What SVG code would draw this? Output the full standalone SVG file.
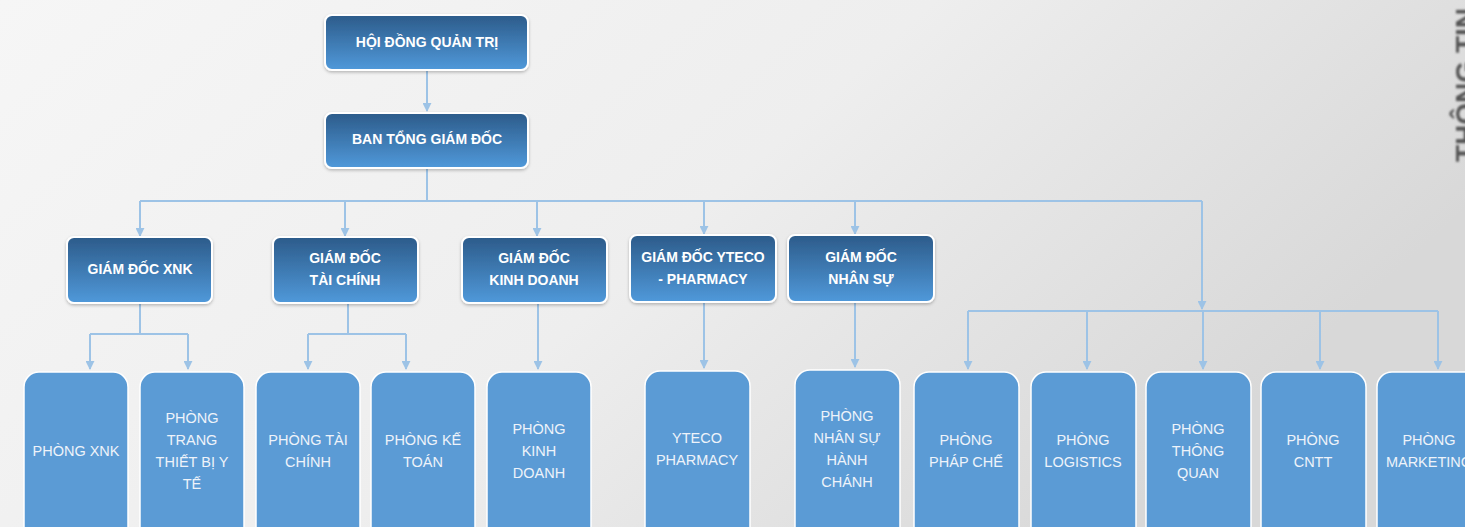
<svg xmlns="http://www.w3.org/2000/svg" width="1465" height="527" viewBox="0 0 1465 527">
<defs>
<linearGradient id="bg" x1="0" y1="0" x2="1" y2="0.4">
<stop offset="0" stop-color="#f6f6f6"/>
<stop offset="0.55" stop-color="#eeeeee"/>
<stop offset="1" stop-color="#d8d8d8"/>
</linearGradient>
<linearGradient id="dark" x1="0" y1="0" x2="0" y2="1">
<stop offset="0" stop-color="#2c5b8a"/>
<stop offset="1" stop-color="#5099da"/>
</linearGradient>
<filter id="sh" x="-10%" y="-10%" width="120%" height="130%">
<feDropShadow dx="0" dy="1.5" stdDeviation="1.5" flood-color="#000" flood-opacity="0.25"/>
</filter>
<filter id="blur" x="-20%" y="-20%" width="140%" height="140%">
<feGaussianBlur stdDeviation="1.2"/>
</filter>
<marker id="arr" viewBox="0 0 10 10" refX="9" refY="5" markerWidth="4.5" markerHeight="4.5" orient="auto" markerUnits="strokeWidth">
<path d="M0,0 L10,5 L0,10 z" fill="#9dc3e6"/>
</marker>
<style>
.top{fill:url(#dark);stroke:#ffffff;stroke-width:2;filter:url(#sh)}
.leaf{fill:#5b9bd5;stroke:#ffffff;stroke-width:1.5}
.tt{font-family:"Liberation Sans",Arial,sans-serif;font-weight:bold;font-size:14px;fill:#ffffff;text-anchor:middle}
.lt{font-family:"Liberation Sans",Arial,sans-serif;font-size:14.5px;fill:#eef3fa;text-anchor:middle}
.c{fill:none;stroke:#9dc3e6;stroke-width:2}
.ca{fill:none;stroke:#9dc3e6;stroke-width:2;marker-end:url(#arr)}
</style>
</defs>
<rect width="1465" height="527" fill="url(#bg)"/>
<text transform="translate(1475,162) rotate(-90)" font-family="Liberation Sans,Arial,sans-serif" font-weight="bold" font-size="28" fill="#555555" filter="url(#blur)">THÔNG TIN</text>

<g id="connectors">
<path class="ca" d="M427,70 V111"/>
<path class="c" d="M427,168 V201 M140,201 H1202"/>
<path class="ca" d="M140,201 V236"/>
<path class="ca" d="M345,201 V236"/>
<path class="ca" d="M537,201 V236"/>
<path class="ca" d="M704,201 V234"/>
<path class="ca" d="M855,201 V234"/>
<path class="ca" d="M1202,201 V309"/>
<path class="c" d="M140,303 V334 M90,334 H188"/>
<path class="ca" d="M90,334 V369"/>
<path class="ca" d="M188,334 V369"/>
<path class="c" d="M348,303 V334 M308,334 H406"/>
<path class="ca" d="M308,334 V369"/>
<path class="ca" d="M406,334 V369"/>
<path class="ca" d="M538,303 V369"/>
<path class="ca" d="M704,302 V368"/>
<path class="ca" d="M855,302 V367"/>
<path class="c" d="M968,311 H1438"/>
<path class="ca" d="M968,311 V369"/>
<path class="ca" d="M1087,311 V369"/>
<path class="ca" d="M1203,311 V369"/>
<path class="ca" d="M1320,311 V369"/>
<path class="ca" d="M1438,311 V369"/>
</g>

<g id="hdqt"><rect class="top" x="325" y="15" width="203" height="55" rx="7"/><text class="tt" x="427" y="47">HỘI ĐỒNG QUẢN TRỊ</text></g>
<g id="btgd"><rect class="top" x="325" y="113" width="203" height="55" rx="7"/><text class="tt" x="427" y="144">BAN TỔNG GIÁM ĐỐC</text></g>

<g id="gd-xnk"><rect class="top" x="67" y="237" width="145" height="66" rx="7"/><text class="tt" x="140" y="274">GIÁM ĐỐC XNK</text></g>
<g id="gd-tc"><rect class="top" x="273" y="237" width="145" height="66" rx="7"/><text class="tt" x="345" y="263">GIÁM ĐỐC</text><text class="tt" x="345" y="285">TÀI CHÍNH</text></g>
<g id="gd-kd"><rect class="top" x="462" y="237" width="145" height="66" rx="7"/><text class="tt" x="534" y="263">GIÁM ĐỐC</text><text class="tt" x="534" y="285">KINH DOANH</text></g>
<g id="gd-yteco"><rect class="top" x="630" y="235" width="146" height="67" rx="7"/><text class="tt" x="703" y="262">GIÁM ĐỐC YTECO</text><text class="tt" x="703" y="284">- PHARMACY</text></g>
<g id="gd-ns"><rect class="top" x="788" y="235" width="146" height="67" rx="7"/><text class="tt" x="861" y="262">GIÁM ĐỐC</text><text class="tt" x="861" y="284">NHÂN SỰ</text></g>

<g id="p-xnk"><rect class="leaf" x="24" y="372" width="104" height="175" rx="15"/><text class="lt" x="76" y="456">PHÒNG XNK</text></g>
<g id="p-ttb"><rect class="leaf" x="140" y="372" width="104" height="175" rx="15"/><text class="lt" x="192" y="423">PHÒNG</text><text class="lt" x="192" y="445">TRANG</text><text class="lt" x="192" y="467">THIẾT BỊ Y</text><text class="lt" x="192" y="489">TẾ</text></g>
<g id="p-tc"><rect class="leaf" x="256" y="372" width="104" height="175" rx="15"/><text class="lt" x="308" y="445">PHÒNG TÀI</text><text class="lt" x="308" y="467">CHÍNH</text></g>
<g id="p-kt"><rect class="leaf" x="371" y="372" width="104" height="175" rx="15"/><text class="lt" x="423" y="445">PHÒNG KẾ</text><text class="lt" x="423" y="467">TOÁN</text></g>
<g id="p-kd"><rect class="leaf" x="487" y="372" width="104" height="175" rx="15"/><text class="lt" x="539" y="434">PHÒNG</text><text class="lt" x="539" y="456">KINH</text><text class="lt" x="539" y="478">DOANH</text></g>
<g id="p-yteco"><rect class="leaf" x="645" y="371" width="105" height="175" rx="15"/><text class="lt" x="697" y="443">YTECO</text><text class="lt" x="697" y="465">PHARMACY</text></g>
<g id="p-ns"><rect class="leaf" x="795" y="370" width="105" height="175" rx="15"/><text class="lt" x="847" y="421">PHÒNG</text><text class="lt" x="847" y="443">NHÂN SỰ</text><text class="lt" x="847" y="465">HÀNH</text><text class="lt" x="847" y="487">CHÁNH</text></g>
<g id="p-pc"><rect class="leaf" x="914" y="372" width="105" height="175" rx="15"/><text class="lt" x="966" y="445">PHÒNG</text><text class="lt" x="966" y="467">PHÁP CHẾ</text></g>
<g id="p-lg"><rect class="leaf" x="1031" y="372" width="105" height="175" rx="15"/><text class="lt" x="1083" y="445">PHÒNG</text><text class="lt" x="1083" y="467">LOGISTICS</text></g>
<g id="p-tq"><rect class="leaf" x="1146" y="372" width="105" height="175" rx="15"/><text class="lt" x="1198" y="434">PHÒNG</text><text class="lt" x="1198" y="456">THÔNG</text><text class="lt" x="1198" y="478">QUAN</text></g>
<g id="p-cntt"><rect class="leaf" x="1261" y="372" width="105" height="175" rx="15"/><text class="lt" x="1313" y="445">PHÒNG</text><text class="lt" x="1313" y="467">CNTT</text></g>
<g id="p-mkt"><rect class="leaf" x="1377" y="372" width="105" height="175" rx="15"/><text class="lt" x="1429" y="445">PHÒNG</text><text class="lt" x="1429" y="467">MARKETING</text></g>
</svg>
